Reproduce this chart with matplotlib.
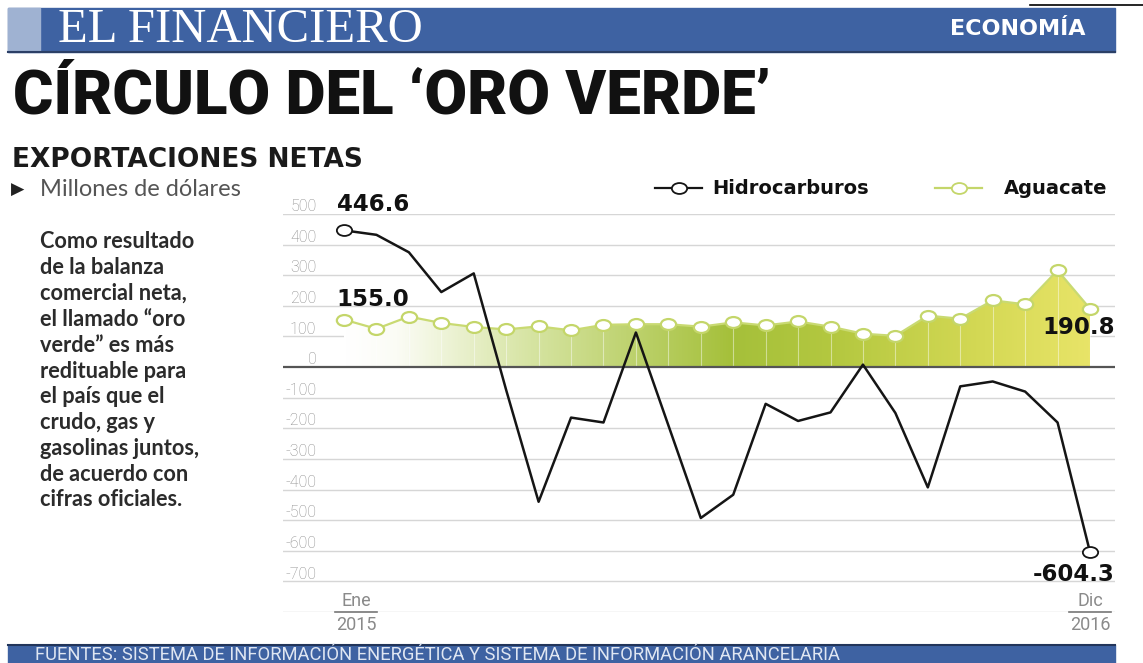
import numpy as np
import matplotlib
matplotlib.use("Agg")
import matplotlib.pyplot as plt
from matplotlib.path import Path
from matplotlib.transforms import Affine2D
from matplotlib.patches import Rectangle, Polygon
from matplotlib.lines import Line2D
from matplotlib.colors import LinearSegmentedColormap

# ---------------- data ----------------
months = ["Ene 2015", "Feb", "Mar", "Abr", "May", "Jun", "Jul", "Ago", "Sep", "Oct", "Nov", "Dic",
          "Ene 2016", "Feb", "Mar", "Abr", "May", "Jun", "Jul", "Ago", "Sep", "Oct", "Nov", "Dic 2016"]
hidrocarburos = [446.6, 432, 375, 245, 306, -75, -440, -165, -181, 113, -190, -493,
                 -417, -120, -176, -148, 8, -150, -393, -63, -47, -80, -181, -604.3]
aguacate = [155.0, 125, 165, 144, 131, 123, 133, 120, 138, 140, 140, 132,
            146, 136, 149, 132, 109, 102, 168, 158, 218, 205, 316, 190.8]
y_ticks = [500, 400, 300, 200, 100, 0, -100, -200, -300, -400, -500, -600, -700]
x_start_label = ("Ene", "2015")
x_end_label = ("Dic", "2016")

W, H = 1143, 663
fig = plt.figure(figsize=(W / 100, H / 100), dpi=100)
fig.patch.set_facecolor("white")


def fx(x):
    return x / W


def fy(y):
    return 1 - y / H


BLUE = "#3e62a2"

# ---------------- header ----------------
fig.add_artist(Rectangle((fx(8), fy(52)), fx(1115) - fx(8), fy(8) - fy(52),
                         transform=fig.transFigure, color=BLUE, zorder=1))
fig.add_artist(Rectangle((fx(8), fy(52)), fx(40) - fx(8), fy(8) - fy(52),
                         transform=fig.transFigure, color="#9fb2d2", zorder=1))
fig.add_artist(Line2D([fx(8), fx(1115)], [fy(52), fy(52)], transform=fig.transFigure,
                      color="#2b3f66", lw=1.5, zorder=2))
fig.add_artist(Line2D([fx(1030), fx(1143)], [fy(5), fy(5)], transform=fig.transFigure,
                      color="black", lw=1.2, zorder=2))
fig.text(fx(58), fy(30), "EL FINANCIERO", family="Liberation Serif", fontsize=35,
         color="white", ha="left", va="center", zorder=3)
fig.text(fx(1086), fy(29), "ECONOMÍA", family="DejaVu Sans", weight="bold", fontsize=16,
         color="white", ha="right", va="center", zorder=3)

# ---------------- title ----------------
fig.text(fx(13), fy(97), "CÍRCULO DEL ‘ORO VERDE’", family="Roboto", weight="black",
         fontsize=44.5, color="#111111", ha="left", va="center")
fig.text(fx(12), fy(160), "EXPORTACIONES NETAS", family="DejaVu Sans", weight="bold",
         fontsize=19, color="#1a1a1a", ha="left", va="center")
fig.text(fx(11), fy(190), "▶", family="DejaVu Sans", fontsize=12.5, color="#222222",
         ha="left", va="center")
fig.text(fx(40), fy(190), "Millones de dólares", family="Lato", fontsize=17,
         color="#555555", ha="left", va="center")

body = ["Como resultado", "de la balanza", "comercial neta,", "el llamado “oro",
        "verde” es más", "redituable para", "el país que el", "crudo, gas y",
        "gasolinas juntos,", "de acuerdo con", "cifras oficiales."]
for k, line in enumerate(body):
    fig.text(fx(40), fy(242 + k * 25.8), line, family="Lato", weight="bold", fontsize=15.7,
             color="#2b2b2b", ha="left", va="center")

# ---------------- footer ----------------
fig.add_artist(Rectangle((fx(8), fy(663)), fx(1115) - fx(8), fy(645) - fy(663),
                         transform=fig.transFigure, color=BLUE, zorder=1))
fig.add_artist(Line2D([fx(8), fx(1115)], [fy(645), fy(645)], transform=fig.transFigure,
                      color="#22355a", lw=1.5, zorder=2))
fig.text(fx(35), fy(654.5), "FUENTES: SISTEMA DE INFORMACIÓN ENERGÉTICA Y SISTEMA DE INFORMACIÓN ARANCELARIA",
         family="Roboto", fontsize=13.2, color="#dfe6f2", ha="left", va="center", zorder=3)

# ---------------- chart ----------------
ax_left, ax_right, ax_top, ax_bot = 283, 1115, 214, 612
ax = fig.add_axes([fx(ax_left), fy(ax_bot), fx(ax_right) - fx(ax_left), fy(ax_top) - fy(ax_bot)])
ax.set_facecolor("none")
for s in ax.spines.values():
    s.set_visible(False)
ax.set_xticks([])
ax.set_yticks([])

x = np.arange(len(hidrocarburos))
spacing = (1090 - 344) / 23
xmin = -(344 - ax_left) / spacing
xmax = 23 + (ax_right - 1090) / spacing
ax.set_xlim(xmin, xmax)
ax.set_ylim(-800, 500)

# grid
for v in range(-800, 501, 100):
    if v == 0:
        continue
    ax.axhline(v, color="#d6d6d6", lw=1.0, zorder=1)

# y labels
for v in y_ticks:
    ax.text(0.040, v + 24, f"{v}", transform=ax.get_yaxis_transform(), ha="right", va="center",
            family="Roboto", weight="light", fontsize=11.5, color="#8a8a8a", zorder=2)

# gradient fill under aguacate
agu = np.array(aguacate)
verts = [(x[0], 0)] + list(zip(x, agu)) + [(x[-1], 0)]
poly = Polygon(verts, closed=True, facecolor="none", edgecolor="none")
ax.add_patch(poly)
cmap = LinearSegmentedColormap.from_list("oro", [
    (0.0, "#ffffff"), (0.07, "#fbfcf5"), (0.25, "#d6e4a2"), (0.52, "#a5c03a"),
    (0.66, "#b4c840"), (0.86, "#d5d955"), (1.0, "#e8e468")])
grad = np.linspace(0, 1, 512).reshape(1, -1)
im = ax.imshow(grad, cmap=cmap, aspect="auto", extent=(x[0], x[-1], 0, agu.max()),
               origin="lower", zorder=2, interpolation="bilinear")
im.set_clip_path(poly)
ax.vlines(x, 0, agu, color="white", lw=0.8, alpha=0.45, zorder=3)

# zero line
ax.axhline(0, color="#555555", lw=1.6, zorder=4)

# ellipse marker
ell = Path(Affine2D().scale(1.4, 1.0).transform(Path.unit_circle().vertices),
           Path.unit_circle().codes)

ax.plot(x, agu, color="#c9da72", lw=1.6, zorder=5, marker=ell, markersize=11,
        markerfacecolor="white", markeredgecolor="#c4d66a", markeredgewidth=1.6)
ax.plot(x, hidrocarburos, color="#151515", lw=1.8, zorder=6)
ax.plot([x[0], x[-1]], [hidrocarburos[0], hidrocarburos[-1]], ls="none", marker=ell,
        markersize=11, markerfacecolor="white", markeredgecolor="#151515",
        markeredgewidth=1.3, zorder=7)

# value labels
lab = dict(family="DejaVu Sans", weight="bold", fontsize=16.5, color="#111111", zorder=8)
ax.text(-0.22, 530, f"{hidrocarburos[0]:.1f}", ha="left", va="center", **lab)
ax.text(-0.22, 220, f"{aguacate[0]:.1f}", ha="left", va="center", **lab)
ax.text(xmax, 129, f"{aguacate[-1]:.1f}", ha="right", va="center", **lab)
ax.text(xmax, -678, f"{hidrocarburos[-1]:.1f}", ha="right", va="center", **lab)

# bottom date labels
xl = dict(family="Roboto", fontsize=13, color="#8a8a8a", ha="center", zorder=8)
ax.text(0.37, -800 + 8, x_start_label[0], va="bottom", **xl)
ax.text(0.37, -800 - 14, x_start_label[1], va="top", **xl)
ax.text(23.0, -800 + 8, x_end_label[0], va="bottom", **xl)
ax.text(23.0, -800 - 14, x_end_label[1], va="top", **xl)
ax.plot([-0.28, 1.02], [-800, -800], color="#777777", lw=1.2, zorder=3, clip_on=False)
ax.plot([22.36, 23.66], [-800, -800], color="#777777", lw=1.2, zorder=3, clip_on=False)

# legend (manual)
def legend_item(x0, x1, color, text, tx):
    fig.add_artist(Line2D([fx(x0), fx(x1)], [fy(188), fy(188)], transform=fig.transFigure,
                          color=color, lw=1.6, zorder=5))
    fig.add_artist(Line2D([fx((x0 + x1) / 2)], [fy(188)], transform=fig.transFigure,
                          marker=ell, markersize=11, markerfacecolor="white",
                          markeredgecolor=color, markeredgewidth=1.3, ls="none", zorder=6))
    fig.text(fx(tx), fy(188), text, family="DejaVu Sans", weight="bold", fontsize=14,
             color="#111111", ha="left", va="center")

legend_item(655, 702, "#151515", "Hidrocarburos", 712)
legend_item(935, 982, "#c4d66a", "Aguacate", 1004)

fig.savefig("out.png", dpi=100)
